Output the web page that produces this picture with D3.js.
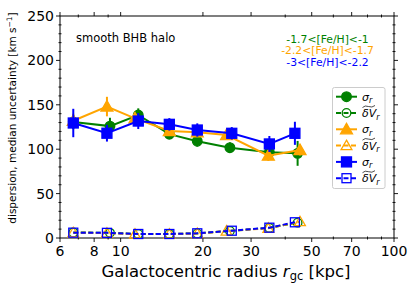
<!DOCTYPE html>
<html><head><meta charset="utf-8">
<script src="https://cdn.jsdelivr.net/npm/d3@7"></script>
<style>body{margin:0;background:#fff}svg{font-family:"DejaVu Sans",sans-serif}</style>
</head><body>
<svg id="c" width="416" height="290"></svg>
<script>
// ---- data ----
const greenR   = [6.71, 9.14, 11.6, 15.07, 19.07, 25.1, 35.0, 44.4];
const greenSig = [130.5, 126, 138.5, 117, 109, 101.7, 96.5, 95.3];
const greenErr = [8, 9.4, 7.5, 6, 6, 6, 6, 14];
const greenDV  = [6.3, 5.8, 4.6, 4.6, 5.2, 8.0, 11.4, 17.3];

const orangeR   = [6.71, 8.91, 11.28, 15.07, 19.07, 24.4, 34.7, 45.3];
const orangeSig = [132, 148, 134.8, 120.5, 119, 116, 92.7, 99];
const orangeErr = [8, 11, 6, 5, 5, 5, 6, 6];
const orangeDV  = [6.0, 5.5, 4.4, 4.4, 5.0, 7.8, 11.0, 18.4];

const blueR   = [6.71, 8.91, 11.6, 15.07, 19.07, 25.5, 35.0, 43.4];
const blueSig = [129.5, 118, 131.7, 128, 121.6, 117.9, 105.9, 117.9];
const blueErr = [16, 9.4, 9, 7, 7.5, 7, 9, 13];
const blueDV  = [6.0, 5.8, 4.5, 4.5, 5.3, 8.2, 11.6, 17.7];

const xMajor = [6, 8, 10, 20, 30, 50, 70, 100];
const xMinor = [7, 9, 40, 60, 80, 90];
const yMajor = [0, 50, 100, 150, 200, 250];
const yMinor = d3.range(0, 251, 10).filter(v => v % 50 !== 0);

const feLabels = ["-1.7<[Fe/H]<-1", "-2.2<[Fe/H]<-1.7", "-3<[Fe/H]<-2.2"];
const colors = {green: "#008000", orange: "#FFA500", blue: "#0000FF"};

// ---- layout ----
const svg = d3.select("#c");
const L = 60, R = 394, T = 16, B = 238;
const x = d3.scaleLog().domain([6, 100]).range([L, R]);
const y = d3.scaleLinear().domain([0, 250]).range([B, T]);

// frame
svg.append("rect").attr("x", L).attr("y", T).attr("width", R - L).attr("height", B - T)
  .attr("fill", "none").attr("stroke", "#000").attr("stroke-width", 1);

const tk = svg.append("g").attr("stroke", "#000").attr("stroke-width", 0.9);
xMajor.forEach(v => {
  tk.append("line").attr("x1", x(v)).attr("x2", x(v)).attr("y1", B).attr("y2", B + 4);
  tk.append("line").attr("x1", x(v)).attr("x2", x(v)).attr("y1", T).attr("y2", T - 4);
});
xMinor.forEach(v => {
  tk.append("line").attr("x1", x(v)).attr("x2", x(v)).attr("y1", B - 1.5).attr("y2", B + 1.5);
  tk.append("line").attr("x1", x(v)).attr("x2", x(v)).attr("y1", T - 1.5).attr("y2", T + 1.5);
});
yMajor.forEach(v => {
  tk.append("line").attr("x1", L - 4).attr("x2", L).attr("y1", y(v)).attr("y2", y(v));
  tk.append("line").attr("x1", R).attr("x2", R + 4).attr("y1", y(v)).attr("y2", y(v));
});
yMinor.forEach(v => {
  tk.append("line").attr("x1", L - 1.5).attr("x2", L + 1.5).attr("y1", y(v)).attr("y2", y(v));
  tk.append("line").attr("x1", R - 1.5).attr("x2", R + 1.5).attr("y1", y(v)).attr("y2", y(v));
});

// tick labels
svg.append("g").selectAll("text").data(xMajor).join("text")
  .attr("x", d => x(d)).attr("y", B + 18).attr("text-anchor", "middle")
  .attr("font-size", 14).text(d => d);
svg.append("g").selectAll("text").data(yMajor).join("text")
  .attr("x", L - 6).attr("y", d => y(d) + 5).attr("text-anchor", "end")
  .attr("font-size", 14).text(d => d);

// axis titles
const xt = svg.append("text").attr("x", 226).attr("y", 277).attr("text-anchor", "middle").attr("font-size", 16.5);
xt.append("tspan").text("Galactocentric radius ");
xt.append("tspan").attr("font-style", "italic").text("r");
xt.append("tspan").attr("font-size", 11.5).attr("dy", 3).text("gc");
xt.append("tspan").attr("dy", -3).text(" [kpc]");

const yt = svg.append("text").attr("transform", "translate(16,118) rotate(-90)")
  .attr("text-anchor", "middle").attr("font-size", 10.5);
yt.append("tspan").text("dispersion, median uncertainty [km s");
yt.append("tspan").attr("font-size", 7.5).attr("dy", -4).text("−1");
yt.append("tspan").attr("dy", 4).text("]");

// texts in panel
svg.append("text").attr("x", 76).attr("y", 42).attr("font-size", 11.5).text("smooth BHB halo");
const feCols = [colors.green, colors.orange, colors.blue];
feLabels.forEach((t, i) => {
  svg.append("text").attr("x", 327.5).attr("y", 42.5 + i * 11.5).attr("text-anchor", "middle")
    .attr("font-size", 10.8).attr("fill", feCols[i]).text(t);
});

// marker helpers
function marker(g, shape, cx, cy, col, filled, size) {
  const sw = 1.3;
  if (shape === "circle") {
    g.append("circle").attr("cx", cx).attr("cy", cy).attr("r", size)
      .attr("fill", filled ? col : "none").attr("stroke", col).attr("stroke-width", sw);
  } else if (shape === "square") {
    g.append("rect").attr("x", cx - size).attr("y", cy - size).attr("width", 2 * size).attr("height", 2 * size)
      .attr("fill", filled ? col : "none").attr("stroke", col).attr("stroke-width", sw);
  } else {
    const s = size * 1.15;
    g.append("path").attr("d", `M${cx},${cy - s}L${cx + s},${cy + s * 0.75}L${cx - s},${cy + s * 0.75}Z`)
      .attr("fill", filled ? col : "none").attr("stroke", col).attr("stroke-width", sw);
  }
}

const series = [
  {r: greenR, sig: greenSig, err: greenErr, dv: greenDV, col: colors.green, shape: "circle", size: 4.8},
  {r: orangeR, sig: orangeSig, err: orangeErr, dv: orangeDV, col: colors.orange, shape: "triangle", size: 5.2},
  {r: blueR, sig: blueSig, err: blueErr, dv: blueDV, col: colors.blue, shape: "square", size: 5}
];
const line = d3.line();
series.forEach(s => {
  const g = svg.append("g");
  g.append("path").attr("d", line(s.r.map((r, i) => [x(r), y(s.sig[i])])))
    .attr("fill", "none").attr("stroke", s.col).attr("stroke-width", 2);
  s.r.forEach((r, i) => {
    g.append("line").attr("x1", x(r)).attr("x2", x(r))
      .attr("y1", y(s.sig[i] - s.err[i])).attr("y2", y(s.sig[i] + s.err[i]))
      .attr("stroke", s.col).attr("stroke-width", 2);
    marker(g, s.shape, x(r), y(s.sig[i]), s.col, true, s.size);
  });
  const g2 = svg.append("g");
  g2.append("path").attr("d", line(s.r.map((r, i) => [x(r), y(s.dv[i])])))
    .attr("fill", "none").attr("stroke", s.col).attr("stroke-width", 2).attr("stroke-dasharray", "5,2.5");
  s.r.forEach((r, i) => marker(g2, s.shape, x(r), y(s.dv[i]), s.col, false, s.size - 0.5));
});

// legend
const lg = svg.append("g");
lg.append("rect").attr("x", 332.5).attr("y", 87.5).attr("width", 52.5).attr("height", 101).attr("rx", 2)
  .attr("fill", "#fff").attr("stroke", "#ccc").attr("stroke-width", 1);
const entries = [];
series.forEach(s => { entries.push({s, dv: false}); entries.push({s, dv: true}); });
entries.forEach((e, i) => {
  const cy = 96.7 + i * 16.3;
  lg.append("line").attr("x1", 336).attr("x2", 357).attr("y1", cy).attr("y2", cy)
    .attr("stroke", e.s.col).attr("stroke-width", 2).attr("stroke-dasharray", e.dv ? "5,2.5" : null);
  marker(lg, e.s.shape, 346.5, cy, e.s.col, !e.dv, e.dv ? e.s.size - 0.5 : e.s.size);
  const t = lg.append("text").attr("x", 362).attr("y", cy + 4).attr("font-size", 11).attr("font-style", "italic");
  if (!e.dv) {
    t.append("tspan").text("σ");
    t.append("tspan").attr("font-size", 8).attr("dy", 2.5).text("r");
  } else {
    t.append("tspan").text("δV");
    t.append("tspan").attr("font-size", 8).attr("dy", 2.5).text("r");
    lg.append("path").attr("d", `M362.5,${cy - 5.5} q2.5,-2.5 6,-1 t6.5,-1`)
      .attr("fill", "none").attr("stroke", "#000").attr("stroke-width", 0.7);
  }
});
</script>
</body></html>
